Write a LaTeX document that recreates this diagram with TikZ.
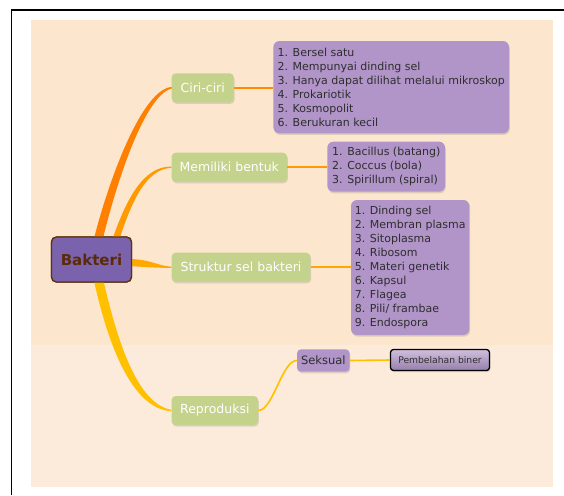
\documentclass[tikz,border=0pt]{standalone}
\usepackage{fontspec}
\setmainfont{DejaVu Sans}
\usetikzlibrary{calc,shadows,shadings}

\definecolor{peach}{HTML}{FDE6CE}
\definecolor{peachlow}{HTML}{FCEBDA}
\definecolor{leaf}{HTML}{C3D38B}
\definecolor{lilac}{HTML}{B194C8}
\definecolor{rootfill}{HTML}{7A63AC}
\definecolor{rootedge}{HTML}{5C3310}
\definecolor{roottext}{HTML}{5A2A0A}
\definecolor{brA}{HTML}{FF8000}
\definecolor{brB}{HTML}{FF9A00}
\definecolor{brC}{HTML}{FFA800}
\definecolor{brD}{HTML}{FFC000}
\definecolor{listtext}{HTML}{2E2E2E}

\begin{document}
\begin{tikzpicture}[x=1pt,y=-1pt,
  softshadow/.style={drop shadow={opacity=0.25, shadow xshift=0.8pt, shadow yshift=-1.6pt}},
  topic/.style={rectangle, rounded corners=4pt, fill=leaf, text=white,
    font=\fontsize{12.5}{15}\selectfont, inner sep=0pt, minimum height=29pt, softshadow},
  itemlist/.style={rectangle, rounded corners=6pt, fill=lilac, text=listtext,
    font=\fontsize{11}{14}\selectfont, align=left, inner sep=0pt, softshadow},
  rootbox/.style={rectangle, rounded corners=5pt, fill=rootfill, draw=rootedge, line width=1.3pt,
    minimum width=80pt, minimum height=45pt, text=roottext,
    font=\fontsize{15}{18}\selectfont\bfseries},
  link/.style={line width=1.6pt},
]
\useasboundingbox (0,0) rectangle (564,495);

% page frame and backdrop
\fill[white] (0,0) rectangle (564,495);
\fill[peach] (31,20) rectangle (553,345);
\fill[peachlow] (31,345) rectangle (553,487);
\draw[line width=1.8pt] (11.5,495) -- (11.5,9.8) -- (564,9.8);

% nodes
\node[rootbox] (bak) at (91.5,259.5) {Bakteri};

\node[topic, minimum width=62pt] (ciri) at (202.7,87.8) {Ciri-ciri};
\node[topic, minimum width=115.4pt] (mem) at (229.3,167.2) {Memiliki bentuk};
\node[topic, minimum width=138.8pt] (str) at (241,267.2) {Struktur sel bakteri};
\node[topic, minimum width=86.4pt] (rep) at (214.8,410.5) {Reproduksi};

\node[itemlist, minimum width=235.6pt, minimum height=92.3pt] (l1) at (391.2,87.2)
  {1. Bersel satu\\2. Mempunyai dinding sel\\3. Hanya dapat dilihat melalui mikroskop\\4. Prokariotik\\5. Kosmopolit\\6. Berukuran kecil};
\node[itemlist, minimum width=117.7pt, minimum height=50pt] (l2) at (386.2,166.7)
  {1. Bacillus (batang)\\2. Coccus (bola)\\3. Spirillum (spiral)};
\node[itemlist, minimum width=118.4pt, minimum height=135pt] (l3) at (410.2,267.5)
  {1. Dinding sel\\2. Membran plasma\\3. Sitoplasma\\4. Ribosom\\5. Materi genetik\\6. Kapsul\\7. Flagea\\8. Pili/ frambae\\9. Endospora};

\node[itemlist, rounded corners=4pt, minimum width=52.6pt, minimum height=22.4pt, align=center,
  font=\fontsize{11.5}{14}\selectfont] (seks) at (323.3,360.5) {Seksual};
\node[rectangle, rounded corners=3pt, top color=lilac!60!white, bottom color=lilac!85!black,
  draw=black, line width=1.3pt, minimum width=99pt, minimum height=21pt, inner sep=0pt,
  text=listtext, font=\fontsize{9.2}{11}\selectfont, softshadow] (pemb) at (440,360) {Pembelahan biner};

% tapered main branches
\fill[brA] ($(bak.north)+(2,4)$) .. controls (110,175) and (143,89) .. ($(ciri.west)+(0,-0.8)$)
  -- ($(ciri.west)+(0,0.8)$) .. controls (146,95) and (118,176) .. ($(bak.north)+(11,4)$) -- cycle;
\fill[brB] ($(bak.north)+(20.5,4)$) .. controls (126,200) and (143,166) .. ($(mem.west)+(0,-0.6)$)
  -- ($(mem.west)+(0,0.6)$) .. controls (145,169) and (131,204) .. ($(bak.north)+(27.5,4)$) -- cycle;
\fill[brC] ($(bak.east)+(-4,-0.5)$) .. controls (150,259) and (158,266) .. ($(str.west)+(0,-0.6)$)
  -- ($(str.west)+(0,0.6)$) .. controls (155,268) and (148,267) .. ($(bak.east)+(-4,6.5)$) -- cycle;
\fill[brD] ($(bak.south)+(2,-4)$) .. controls (108,345) and (132,409) .. ($(rep.west)+(0,0.7)$)
  -- ($(rep.west)+(0,-0.7)$) .. controls (137,404) and (117,340) .. ($(bak.south)+(11.5,-4)$) -- cycle;

% root box again, over the branch bases
\node[rootbox] at (bak) {Bakteri};

% sub-branch links
\draw[link, brA!90!yellow] (ciri.east) -- (ciri.east -| l1.west);
\draw[link, brB] (mem.east) -- (mem.east -| l2.west);
\draw[link, brC] (str.east) -- (str.east -| l3.west);
\draw[link, brD] (rep.east) .. controls +(15,0) and +(-15,0) .. (seks.west);
\draw[link, brD] (seks.east) -- (pemb.west);
\end{tikzpicture}
\end{document}
